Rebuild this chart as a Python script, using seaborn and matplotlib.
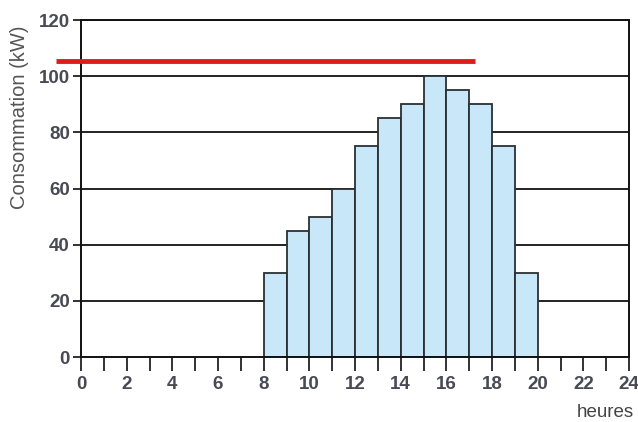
import matplotlib
matplotlib.use("Agg")
import matplotlib.pyplot as plt
import seaborn as sns
import pandas as pd

hours = [8, 9, 10, 11, 12, 13, 14, 15, 16, 17, 18, 19]
consumption = [30, 45, 50, 60, 75, 85, 90, 100, 95, 90, 75, 30]
limit_value = 105.5
limit_span = [-1.1, 17.25]
x_ticks = list(range(0, 25, 2))
y_ticks = [0, 20, 40, 60, 80, 100, 120]

sns.set_style("white")
plt.rcParams['font.family'] = ['Liberation Sans', 'DejaVu Sans']

df = pd.DataFrame({"h": [h + 0.5 for h in hours], "c": consumption})

fig = plt.figure(figsize=(6.38, 4.22), dpi=100)
ax = fig.add_axes([0.127, 0.154, 0.859, 0.7986])

for y in y_ticks[1:]:
    ax.axhline(y, color="#111111", lw=1.3, zorder=0)

sns.barplot(data=df, x="h", y="c", native_scale=True, width=1,
            color="#c8e7f9", saturation=1, edgecolor="#2a2f33",
            linewidth=1.3, ax=ax, zorder=2)

ax.plot(limit_span, [limit_value, limit_value], color="#dd1c1c", lw=3.5,
        solid_capstyle="butt", clip_on=False, zorder=5)

ax.set_xlim(0, 24)
ax.set_ylim(0, 120)
ax.set_xticks(x_ticks)
ax.set_xticks(range(0, 25), minor=True)
ax.set_yticks(y_ticks)
ax.tick_params(axis="x", which="both", direction="out", length=10, width=1.3,
               color="#222222", labelsize=13.5, labelcolor="#4a4a55", pad=4,
               bottom=True)
ax.tick_params(axis="y", direction="out", length=6, width=1.3, color="#222222",
               labelsize=13.5, labelcolor="#4a4a55", pad=2, left=True)
for lab in ax.get_xticklabels() + ax.get_yticklabels():
    lab.set_fontweight("semibold")
for s in ax.spines.values():
    s.set_color("#111111")
    s.set_linewidth(1.4)
    s.set_visible(True)
ax.set_xlabel("")
ax.set_ylabel("Consommation (kW)", fontsize=14.5, color="#555555")
ax.yaxis.set_label_coords(-0.095, 0.71)
fig.text(0.948, 0.012, "heures", fontsize=13.5, color="#444444", ha="center")

fig.savefig("out.png", dpi=100)
